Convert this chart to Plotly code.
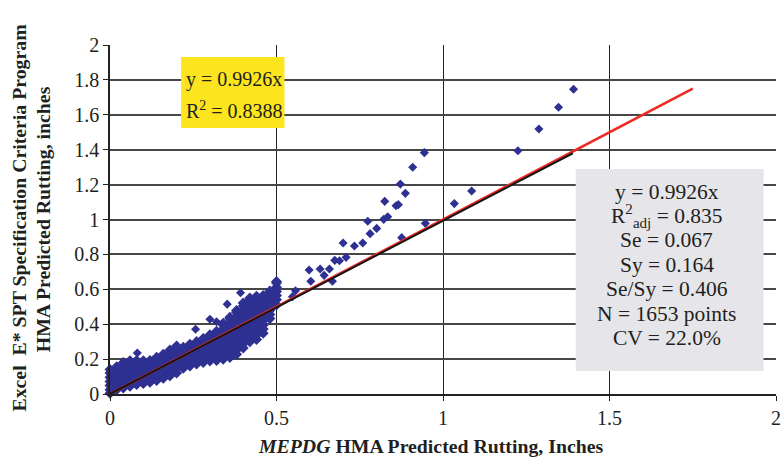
import plotly.graph_objects as go

# Dense part of the cloud: MEPDG rutting (key) -> Excel E* SPT rutting values, inches
dense_cols = {
    0.00: [0.005, 0.024, 0.048, 0.072, 0.096, 0.12, 0.14],
    0.02: [0.025, 0.036, 0.06, 0.084, 0.108, 0.132, 0.156],
    0.04: [0.035, 0.048, 0.072, 0.096, 0.12, 0.144, 0.168, 0.18],
    0.06: [0.045, 0.06, 0.084, 0.108, 0.132, 0.156, 0.18, 0.19],
    0.08: [0.055, 0.072, 0.096, 0.12, 0.144, 0.168, 0.192],
    0.10: [0.06, 0.084, 0.108, 0.132, 0.156, 0.18, 0.19],
    0.12: [0.067, 0.096, 0.12, 0.144, 0.168, 0.192],
    0.14: [0.078, 0.084, 0.108, 0.132, 0.156, 0.18, 0.204, 0.21],
    0.16: [0.09, 0.096, 0.12, 0.144, 0.168, 0.192, 0.216, 0.228],
    0.18: [0.105, 0.108, 0.132, 0.156, 0.18, 0.204, 0.228, 0.252],
    0.20: [0.12, 0.144, 0.168, 0.192, 0.216, 0.24, 0.264, 0.275],
    0.22: [0.148, 0.156, 0.18, 0.204, 0.228, 0.252, 0.268],
    0.24: [0.16, 0.168, 0.192, 0.216, 0.24, 0.264, 0.285],
    0.26: [0.172, 0.18, 0.204, 0.228, 0.252, 0.276, 0.3],
    0.28: [0.18, 0.192, 0.216, 0.24, 0.264, 0.288, 0.312, 0.318],
    0.30: [0.19, 0.204, 0.228, 0.252, 0.276, 0.3, 0.324, 0.34],
    0.32: [0.192, 0.216, 0.24, 0.264, 0.288, 0.312, 0.336, 0.36],
    0.34: [0.2, 0.204, 0.228, 0.252, 0.276, 0.3, 0.324, 0.348, 0.372, 0.396, 0.405],
    0.36: [0.21, 0.216, 0.24, 0.264, 0.288, 0.312, 0.336, 0.36, 0.384, 0.408, 0.432, 0.44],
    0.38: [0.228, 0.252, 0.276, 0.3, 0.324, 0.348, 0.372, 0.396, 0.42, 0.444, 0.468, 0.478],
    0.40: [0.264, 0.288, 0.312, 0.336, 0.36, 0.384, 0.408, 0.432, 0.456, 0.48, 0.504, 0.522],
    0.42: [0.3, 0.324, 0.348, 0.372, 0.396, 0.42, 0.444, 0.468, 0.492, 0.516, 0.54, 0.55],
    0.44: [0.312, 0.336, 0.36, 0.384, 0.408, 0.432, 0.456, 0.48, 0.504, 0.528, 0.552, 0.56],
    0.46: [0.348, 0.372, 0.396, 0.42, 0.444, 0.468, 0.492, 0.516, 0.54, 0.564],
    0.48: [0.432, 0.456, 0.48, 0.504, 0.528, 0.552, 0.576, 0.59],
    0.50: [0.51, 0.54, 0.564, 0.588, 0.612, 0.636, 0.645],
}

# Scattered sections that stand apart from the cloud
sparse_x = [0.082, 0.257, 0.30, 0.32, 0.352, 0.392, 0.464, 0.548, 0.557,
            0.598, 0.603, 0.631, 0.643, 0.659, 0.668, 0.675, 0.689, 0.700,
            0.709, 0.734, 0.759, 0.774, 0.781, 0.801, 0.822, 0.834, 0.825,
            0.859, 0.866, 0.872, 0.876, 0.887, 0.909, 0.944, 0.947, 1.034,
            1.086, 1.225, 1.288, 1.347, 1.392]
sparse_y = [0.235, 0.371, 0.428, 0.414, 0.515, 0.58, 0.512, 0.558, 0.592,
            0.711, 0.646, 0.716, 0.680, 0.716, 0.646, 0.766, 0.764, 0.865,
            0.783, 0.848, 0.865, 0.990, 0.919, 0.949, 1.001, 1.016, 1.104,
            1.079, 1.085, 1.203, 0.896, 1.150, 1.299, 1.383, 0.978, 1.091,
            1.163, 1.394, 1.519, 1.643, 1.746]

trend_slope = 0.9926
trend_x = [0.0, 1.39]
equality_x = [0.0, 1.75]

x_ticks = [0, 0.5, 1, 1.5, 2]
x_ticktext = ["0", "0.5", "1", "1.5", "2"]
y_ticks = [0, 0.2, 0.4, 0.6, 0.8, 1.0, 1.2, 1.4, 1.6, 1.8, 2.0]
y_ticktext = ["0", "0.2", "0.4", "0.6", "0.8", "1", "1.2", "1.4", "1.6", "1.8", "2"]

fit_lines = ["y = 0.9926x", "R<sup>2</sup> = 0.8388"]
stats_lines = ["y = 0.9926x", "R<sup>2</sup><sub>adj</sub> = 0.835", "Se = 0.067",
               "Sy = 0.164", "Se/Sy = 0.406", "N = 1653 points", "CV = 22.0%"]

SERIF = "Liberation Serif, Times New Roman, serif"
TEXT = "#231F20"
NAVY = "#2E3192"

dense_x, dense_y = [], []
for xv, ys in dense_cols.items():
    dense_x += [xv] * len(ys)
    dense_y += ys

fig = go.Figure()
fig.add_trace(go.Scatter(
    x=dense_x, y=dense_y, mode="markers", cliponaxis=False, legendgroup="pts",
    marker=dict(symbol="diamond", size=8.5, color=NAVY, line=dict(width=0)),
    showlegend=False, hoverinfo="skip"))
fig.add_trace(go.Scatter(
    x=sparse_x, y=sparse_y, mode="markers", cliponaxis=False, legendgroup="pts",
    marker=dict(symbol="diamond", size=7, color=NAVY, line=dict(width=0)),
    showlegend=False, hoverinfo="skip"))
fig.add_trace(go.Scatter(
    x=equality_x, y=equality_x, mode="lines",
    line=dict(color="#EE2A24", width=2.6), showlegend=False, hoverinfo="skip"))
fig.add_trace(go.Scatter(
    x=trend_x, y=[trend_slope * v for v in trend_x], mode="lines",
    line=dict(color="#151515", width=2), showlegend=False, hoverinfo="skip"))

shapes = [
    dict(type="rect", xref="x", yref="y", x0=0.2134, x1=0.5239, y0=1.524, y1=1.931,
         fillcolor="#FCE51F", line=dict(width=0), layer="above"),
    dict(type="rect", xref="x", yref="y", x0=1.3985, x1=1.9627, y0=0.132, y1=1.289,
         fillcolor="#E6E6EA", line=dict(width=0), layer="above"),
]

annotations = []
for txt, yv in zip(fit_lines, [1.805, 1.627]):
    annotations.append(dict(x=0.2224, y=yv, xref="x", yref="y", text=txt,
                            showarrow=False, xanchor="left", yanchor="middle",
                            font=dict(family=SERIF, size=20, color=TEXT)))
for txt, yv in zip(stats_lines, [1.1593, 1.0201, 0.8803, 0.7406, 0.6008, 0.4610, 0.3209]):
    annotations.append(dict(x=1.672, y=yv, xref="x", yref="y", text=txt,
                            showarrow=False, xanchor="center", yanchor="middle",
                            font=dict(family=SERIF, size=21.5, color=TEXT)))

# axis titles
annotations.append(dict(x=0.481, y=-0.149, xref="paper", yref="paper",
                        text="<b><i>MEPDG</i> HMA Predicted Rutting, Inches</b>",
                        showarrow=False, xanchor="center", yanchor="middle",
                        font=dict(family=SERIF, size=19.8, color=TEXT)))
annotations.append(dict(x=-0.137, y=0.505, xref="paper", yref="paper",
                        text="<b>Excel&nbsp; E* SPT Specification Criteria Program</b>",
                        textangle=-90, showarrow=False, xanchor="center", yanchor="middle",
                        font=dict(family=SERIF, size=19.8, color=TEXT)))
annotations.append(dict(x=-0.101, y=0.5, xref="paper", yref="paper",
                        text="<b>HMA Predicted Rutting, inches</b>",
                        textangle=-90, showarrow=False, xanchor="center", yanchor="middle",
                        font=dict(family=SERIF, size=19.8, color=TEXT)))

fig.update_layout(
    width=783, height=460,
    margin=dict(l=110, r=2, t=45, b=66),
    paper_bgcolor="white", plot_bgcolor="white",
    shapes=shapes, annotations=annotations,
    xaxis=dict(range=[0, 2], tickvals=x_ticks, ticktext=x_ticktext,
               showgrid=True, gridcolor="#222222", gridwidth=1.2,
               showline=True, linecolor="#222222", linewidth=1.5,
               ticks="outside", ticklen=5, tickcolor="#222222", zeroline=False,
               ticklabeloverflow="allow",
               tickfont=dict(family=SERIF, size=20, color=TEXT)),
    yaxis=dict(range=[0, 2], tickvals=y_ticks, ticktext=y_ticktext,
               showgrid=True, gridcolor="#474747", gridwidth=1.8,
               showline=True, linecolor="#222222", linewidth=1.5,
               ticks="outside", ticklen=5, tickcolor="#222222", zeroline=False,
               tickfont=dict(family=SERIF, size=20, color=TEXT)),
)

fig.write_html("out.html")
